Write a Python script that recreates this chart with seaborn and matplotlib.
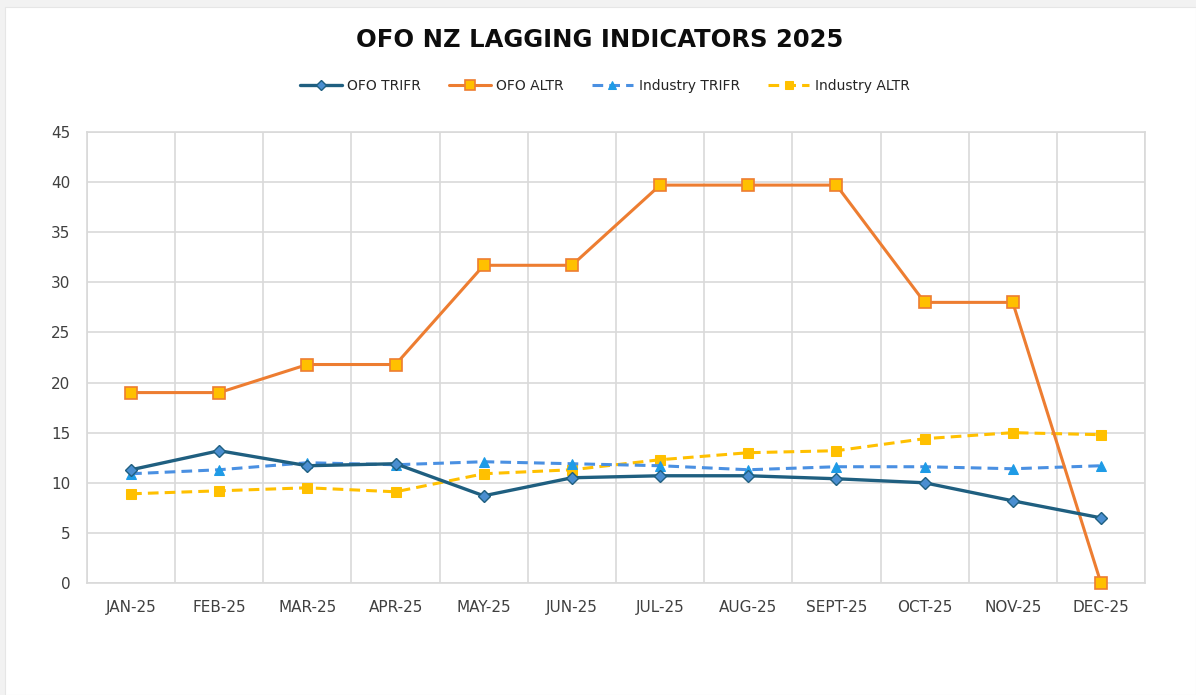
import matplotlib
matplotlib.use("Agg")
import matplotlib.pyplot as plt
import matplotlib.patches as mpatches
import seaborn as sns
import pandas as pd

months = ["JAN-25", "FEB-25", "MAR-25", "APR-25", "MAY-25", "JUN-25",
          "JUL-25", "AUG-25", "SEPT-25", "OCT-25", "NOV-25", "DEC-25"]
ofo_trifr = [11.3, 13.2, 11.7, 11.9, 8.7, 10.5, 10.7, 10.7, 10.4, 10.0, 8.2, 6.5]
ofo_altr = [19.0, 19.0, 21.8, 21.8, 31.7, 31.7, 39.7, 39.7, 39.7, 28.0, 28.0, 0.0]
ind_trifr = [10.9, 11.3, 12.0, 11.8, 12.1, 11.9, 11.7, 11.3, 11.6, 11.6, 11.4, 11.7]
ind_altr = [8.9, 9.2, 9.5, 9.1, 10.9, 11.3, 12.3, 13.0, 13.2, 14.4, 15.0, 14.8]
yticks = [0, 5, 10, 15, 20, 25, 30, 35, 40, 45]

sns.set_style("white")
plt.rcParams['font.family'] = ['DejaVu Sans']

fig = plt.figure(figsize=(11.96, 6.95), dpi=100)
fig.patch.set_facecolor("#F2F2F2")
fig.patches.append(mpatches.Rectangle((5/1196, 0), 1 - 5/1196, 1 - 7/695,
                                      transform=fig.transFigure, facecolor="white",
                                      edgecolor="#E6E6E6", lw=0.8, zorder=-5))
ax = fig.add_axes([87/1196, 1 - 583/695, (1145 - 87)/1196, (583 - 132)/695])
ax.set_zorder(2)
ax.set_facecolor("white")

pos = list(range(len(months)))
df = pd.DataFrame({"pos": pos, "ofo_trifr": ofo_trifr, "ofo_altr": ofo_altr,
                   "ind_trifr": ind_trifr, "ind_altr": ind_altr})

sns.lineplot(data=df, x="pos", y="ofo_altr", ax=ax, color="#ED7D31", lw=2.2,
             marker="s", markersize=8.5, markerfacecolor="#FFC000",
             markeredgecolor="#ED7D31", markeredgewidth=1.2, label="OFO ALTR",
             zorder=4, clip_on=False)
sns.lineplot(data=df, x="pos", y="ind_altr", ax=ax, color="#FFC000", lw=2.2,
             linestyle=(0, (3.5, 2)), marker="s", markersize=7.5,
             markerfacecolor="#FFC000", markeredgecolor="#FFC000",
             label="Industry ALTR", zorder=3)
sns.lineplot(data=df, x="pos", y="ind_trifr", ax=ax, color="#4A90E2", lw=2.2,
             linestyle=(0, (3.5, 2)), marker="^", markersize=7.5,
             markerfacecolor="#1E9BE6", markeredgecolor="#1E9BE6",
             label="Industry TRIFR", zorder=3)
sns.lineplot(data=df, x="pos", y="ofo_trifr", ax=ax, color="#1F5F80", lw=2.4,
             marker="D", markersize=6.5, markerfacecolor="#4A8ED0",
             markeredgecolor="#1F5F80", markeredgewidth=1.0, label="OFO TRIFR", zorder=5)

ax.set_xlim(-0.5, len(months) - 0.5)
ax.set_ylim(0, 45)
ax.set_yticks(yticks)
ax.set_yticklabels([str(v) for v in yticks], fontsize=11, color="#404040")
ax.set_xticks(pos)
ax.set_xticklabels(months, fontsize=11, color="#404040")
ax.set_xticks([p - 0.5 for p in pos] + [len(months) - 0.5], minor=True)
ax.tick_params(axis="both", which="both", length=0)
ax.tick_params(axis="x", pad=12)
ax.tick_params(axis="y", pad=12)
ax.grid(axis="y", which="major", color="#D9D9D9", lw=1.2)
ax.grid(axis="x", which="minor", color="#D9D9D9", lw=1.2)
ax.grid(axis="x", which="major", visible=False)
for s in ax.spines.values():
    s.set_visible(True)
    s.set_color("#D9D9D9")
    s.set_linewidth(1.2)
ax.set_xlabel("")
ax.set_ylabel("")

handles, labels = ax.get_legend_handles_labels()
order = ["OFO TRIFR", "OFO ALTR", "Industry TRIFR", "Industry ALTR"]
hmap = dict(zip(labels, handles))
ax.legend([hmap[k] for k in order], order, loc="center",
          bbox_to_anchor=(605/1196, 1 - 86/695), bbox_transform=fig.transFigure,
          ncol=4, frameon=False, fontsize=10, handlelength=3.0, columnspacing=2.0,
          handletextpad=0.4, markerscale=0.85)

fig.text(600/1196, 1 - 40/695, "OFO NZ LAGGING INDICATORS 2025", ha="center",
         va="center", fontsize=17.5, fontweight="bold", color="#0D0D0D")

fig.savefig("out.png", dpi=100, facecolor=fig.get_facecolor())
